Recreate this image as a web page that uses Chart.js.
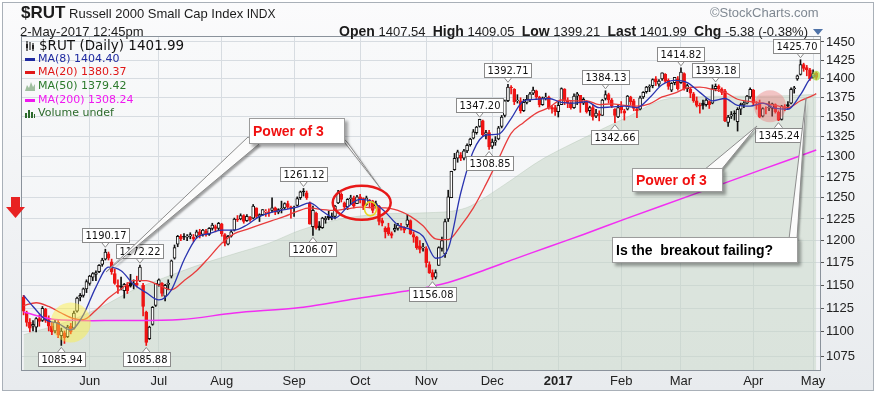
<!DOCTYPE html>
<html>
<head>
<meta charset="utf-8">
<title>$RUT Russell 2000 Small Cap Index</title>
<script src="https://cdn.jsdelivr.net/npm/chart.js@4/dist/chart.umd.min.js"></script>
<style>
  html, body { margin: 0; padding: 0; background: #ffffff; }
  #wrap { position: relative; width: 876px; height: 393px; overflow: hidden; font-family: "Liberation Sans", Arial, sans-serif; color: #1b1b1b; }
  #frame { position: absolute; left: 2px; top: 2px; width: 870px; height: 387px; border: 1px solid #a9b0b8; background: linear-gradient(#fbfbfc, #e8ebee); }
  #chart { position: absolute; left: 0; top: 0; }
  .t { position: absolute; white-space: pre; }
  #title { left: 21px; top: 3px; font-size: 13px; line-height: 20px; }
  #title b { font-size: 17px; }
  #title small { font-size: 12px; }
  #brand { left: 710px; top: 4px; font-size: 13px; line-height: 18px; color: #7f8892; }
  #stamp { left: 20px; top: 24px; font-size: 13px; line-height: 16px; }
  #quote { right: 68px; top: 22px; font-size: 13px; line-height: 18px; }
  #quote b { font-size: 14px; }
  #tri { position: absolute; left: 813px; top: 29px; width: 0; height: 0; border-left: 5px solid transparent; border-right: 5px solid transparent; border-top: 6px solid #4f73a8; }
  .lg { position: absolute; left: 25px; font-family: "DejaVu Sans", Verdana, sans-serif; font-size: 11px; line-height: 14px; white-space: pre; }
  .lg i { display: inline-block; width: 10px; height: 3px; vertical-align: middle; margin-right: 3px; }
  .lg svg { vertical-align: middle; margin-right: 3px; }
  .callout { position: absolute; background: #fff; border: 1px solid #9c9c9c; box-shadow: 3px 3px 3px rgba(0,0,0,0.35); font-weight: bold; font-size: 14px; white-space: pre; box-sizing: border-box; padding-left: 3px; }
</style>
</head>
<body>
<div id="wrap">
  <div id="frame"></div>
  <canvas id="chart" width="876" height="393"></canvas>

  <div class="t" id="title"><b>$RUT</b> Russell 2000 Small Cap Index <small>INDX</small></div>
  <div class="t" id="brand">©StockCharts.com</div>
  <div class="t" id="stamp">2-May-2017 12:45pm</div>
  <div class="t" id="quote"><b>Open</b> 1407.54  <b>High</b> 1409.05  <b>Low</b> 1399.21  <b>Last</b> 1401.99  <b>Chg</b> -5.38 (-0.38%)</div>
  <div id="tri"></div>

  <div class="lg" style="top:38px;font-size:13.5px;color:#111;"><svg width="11" height="10"><path d="M2 0V10M5 1V9M8 2V10" stroke="#222" stroke-width="1.2"/><rect x="1" y="3" width="2" height="4" fill="#222"/><rect x="7" y="4" width="2" height="4" fill="#222"/></svg>$RUT (Daily) 1401.99</div>
  <div class="lg" style="top:52px;color:#1f2aa0;"><i style="background:#1f2aa0"></i>MA(8) 1404.40</div>
  <div class="lg" style="top:65px;color:#e01818;"><i style="background:#e01818"></i>MA(20) 1380.37</div>
  <div class="lg" style="top:79px;color:#2c7a2c;"><svg width="10" height="10"><path d="M0 10L2 4L4 7L6 1L8 6L10 3V10Z" fill="#9fbf9f"/></svg>MA(50) 1379.42</div>
  <div class="lg" style="top:93px;color:#f018f0;"><i style="background:#f018f0"></i>MA(200) 1308.24</div>
  <div class="lg" style="top:106px;color:#2c6a2c;"><svg width="10" height="10"><path d="M0 10V5H2V10ZM3 10V2H5V10ZM6 10V4H8V10ZM9 10V6H10V10Z" fill="#2c6a2c"/></svg>Volume undef</div>

  <div class="callout" style="left:249px;top:118px;width:96px;height:26px;line-height:24px;color:#f01010;">Power of 3</div>
  <div class="callout" style="left:632px;top:168px;width:91px;height:24px;line-height:22px;color:#f01010;">Power of 3</div>
  <div class="callout" style="left:612px;top:237px;width:186px;height:26px;line-height:24px;color:#000;">Is the  breakout failing?</div>
</div>

<script>
"use strict";

// ---- 日足データ (2-May-2016 .. 2-May-2017, 253 trading days) ----
// 月ごとに1行: May, Jun, Jul, Aug, Sep, Oct, Nov, Dec, Jan, Feb, Mar, Apr+May
const openVals = [
  1137,1120,1110,1106,1105,1114,1112,1124,1113,1106,1101,1110,1096,1099,1095,1106,1104,1122,1137,1139,1146,
  1152,1159,1162,1165,1173,1179,1185,1176,1163,1150,1149,1144,1150,1152,1151,1152,1155,1150,1121,1093,1108,1128,
  1151,1152,1138,1151,1160,1180,1196,1205,1205,1204,1205,1204,1205,1210,1207,1211,1207,1214,1216,1214,
  1219,1207,1196,1205,1212,1225,1225,1229,1223,1227,1226,1238,1228,1230,1233,1233,1235,1238,1233,1237,1238,1243,1239,
  1238,1241,1250,1258,1256,1244,1216,1232,1217,1215,1224,1228,1228,1228,1244,1254,1244,1239,1249,1250,1243,
  1251,1249,1242,1247,1246,1240,1240,1223,1214,1215,1208,1212,1214,1216,1214,1218,1223,1207,1204,1194,1192,
  1191,1173,1164,1159,1172,1191,1185,1225,1250,1284,1298,1302,1298,1307,1315,1323,1330,1338,1345,1328,1330,
  1313,1318,1322,1338,1352,1371,1389,1386,1371,1371,1358,1369,1372,1381,1384,1376,1366,1375,1376,1362,1362,
  1357,1366,1386,1371,1368,1362,1377,1378,1368,1370,1358,1362,1351,1354,1352,1374,1379,1372,1360,1350,
  1364,1358,1360,1376,1371,1360,1360,1376,1383,1389,1391,1400,1393,1400,1406,1398,1385,1395,1400,
  1395,1407,1387,1386,1380,1371,1365,1368,1366,1370,1368,1387,1390,1386,1384,1343,1351,1355,1344,1360,1366,1368,1376,
  1385,1366,1368,1351,1360,1362,1361,1366,1356,1347,1361,1366,1368,1387,1400,1406,1419,1415,1412,1402,1407.54
];
const highVals = [
  1139,1122,1114,1112,1115,1118,1127,1125,1117,1110,1113,1113,1104,1101,1107,1109,1122,1137,1141,1147,1156,
  1161,1164,1166,1173,1180,1190.17,1187,1179,1168,1156,1159,1152,1153,1162,1156,1160,1172.22,1152,1122,1106,1127,1152,
  1157,1153,1151,1156,1178,1195,1206,1207,1208,1207,1209,1207,1212,1213,1213,1213,1215,1220,1218,1221,
  1220,1208,1206,1212,1226,1229,1231,1230,1230,1228,1242,1238,1231,1236,1236,1237,1250,1239,1237,1246,1244,1246,1240,
  1240,1251,1258,1261.12,1258,1245,1240,1233,1222,1227,1228,1234,1232,1241,1259,1256,1245,1249,1253,1252,1253,
  1254,1250,1252,1248,1247,1246,1241,1226,1216,1220,1210,1219,1220,1220,1216,1230,1224,1210,1205,1200,1197,
  1193,1176,1167,1167,1193,1204,1225,1259,1282,1304,1308,1305,1309,1316,1323,1334,1338,1347.20,1346,1333,1333,
  1322,1325,1338,1352,1372,1392.71,1391,1387,1379,1375,1373,1378,1382,1389,1385,1377,1376,1381,1377,1365,1365,
  1370,1388,1387,1375,1370,1380,1382,1378,1375,1371,1364,1365,1360,1358,1373,1384.13,1381,1374,1361,1365,
  1370,1360,1378,1377,1373,1362,1377,1383,1390,1392,1400,1403,1399,1408,1407,1400,1395,1402,1403,
  1414.82,1408,1393,1389,1382,1376,1368,1372,1374,1371,1392,1393.18,1392,1388,1386,1352,1357,1358,1362,1368,1370,1378,1388,
  1386,1370,1372,1362,1363,1370,1368,1367,1358,1365,1366,1370,1388,1390,1405,1425.70,1421,1418,1414,1412,1409.05
];
const lowVals = [
  1118,1106,1100,1101,1100,1106,1111,1110,1101,1097,1099,1094,1085.94,1088,1094,1098,1103,1121,1133,1137,1142,
  1150,1155,1155,1164,1171,1178,1178,1162,1151,1141,1145,1136,1141,1148,1146,1148,1154,1117,1085.88,1092,1107,1127,
  1149,1138,1133,1145,1158,1179,1193,1200,1201,1200,1202,1199,1203,1203,1205,1205,1206,1212,1210,1212,
  1205,1194,1195,1204,1211,1222,1224,1220,1222,1222,1225,1226,1222,1229,1228,1228,1233,1230,1231,1232,1236,1237,1226,
  1228,1240,1248,1252,1248,1219,1206.07,1213,1212,1214,1220,1224,1224,1225,1243,1245,1236,1236,1242,1238,1243,
  1244,1236,1241,1238,1232,1238,1218,1217,1203,1206,1203,1210,1212,1212,1209,1216,1207,1198,1190,1186,1188,
  1170,1163,1156.08,1157,1172,1188,1181,1222,1250,1283,1293,1295,1296,1305,1313,1322,1328,1337,1325,1322,1308.85,
  1310,1314,1321,1336,1350,1370,1380,1366,1368,1355,1357,1367,1370,1379,1374,1363,1365,1372,1360,1355,1352,
  1350,1366,1366,1362,1360,1361,1366,1356,1366,1355,1352,1346,1349,1345,1352,1372,1368,1362,1342.66,1349,
  1355,1346,1359,1366,1358,1349,1359,1374,1381,1383,1388,1391,1390,1398,1395,1386,1383,1392,1385,
  1394,1385,1383,1375,1369,1363,1355,1360,1364,1361,1367,1384,1383,1379,1344,1338,1348,1346,1332,1353,1362,1367,1374,
  1365,1360,1349,1350,1354,1358,1351,1355,1345.24,1346,1358,1361,1367,1381,1398,1405,1410,1404,1398,1401,1399.21
];
const closeVals = [
  1122,1110,1104,1108,1114,1111,1125,1112,1106,1100,1110,1097,1101,1094,1105,1100,1120,1136,1139,1146,1154,
  1160,1163,1164,1172,1178,1187,1180,1165,1152,1148,1148,1151,1144,1149,1152,1150,1170,1127,1089,1105,1126,1152,
  1156,1141,1150,1152,1177,1192,1205,1202,1204,1205,1207,1202,1210,1206,1212,1207,1214,1218,1214,1220,
  1208,1197,1205,1210,1225,1224,1229,1222,1228,1224,1240,1228,1230,1236,1234,1232,1238,1233,1236,1237,1243,1239,1238,
  1239,1249,1257,1257,1250,1219,1235,1215,1215,1226,1226,1226,1226,1240,1256,1248,1239,1248,1250,1240,1251,
  1248,1240,1250,1245,1235,1243,1222,1220,1210,1208,1206,1214,1218,1215,1212,1224,1208,1204,1192,1190,1192,
  1175,1164,1159,1164,1192,1200,1222,1251,1282,1298,1306,1298,1307,1314,1322,1331,1337,1347,1327,1330,1312,
  1318,1320,1336,1350,1371,1389,1388,1370,1372,1358,1369,1373,1380,1385,1376,1366,1375,1376,1362,1360,1357,
  1365,1387,1371,1368,1362,1377,1380,1368,1373,1357,1362,1350,1355,1352,1372,1379,1372,1364,1352,1362,
  1359,1355,1377,1370,1361,1358,1375,1382,1389,1390,1399,1396,1397,1408,1397,1390,1394,1402,1387,
  1409,1387,1391,1381,1371,1365,1364,1365,1372,1366,1387,1390,1387,1382,1345,1350,1353,1354,1360,1366,1368,1377,1386,
  1368,1365,1350,1361,1360,1362,1367,1357,1346,1364,1363,1364,1386,1388,1404,1419,1414,1412,1400,1407,1401.99
];

// 移動平均 (チャートから読み取り, 取引日インデックス: 値)
const ma8Idx = [0,3,7,11,15,19,23,27,31,35,39,43,47,51,55,59,63,67,71,75,79,83,87,91,95,99,103,107,111,115,119,123,127,131,135,139,143,147,151,155,159,163,167,171,175,179,183,187,191,195,199,203,207,211,215,219,223,227,231,235,239,243,247,251,252];
const ma8Vals = [1139,1127,1113,1109,1102,1118,1148,1170,1166,1151,1142,1134,1145,1178,1203,1208,1212,1212,1218,1228,1233,1236,1239,1244,1234,1226,1239,1248,1245,1233,1218,1213,1205,1180,1191,1256,1307,1327,1328,1348,1371,1373,1374,1369,1368,1370,1362,1363,1364,1362,1375,1392,1398,1395,1382,1371,1374,1365,1364,1368,1361,1360,1379,1404,1404.40];

const ma20Idx = [0,4,8,12,16,19,23,27,31,35,39,43,47,51,55,59,63,67,71,75,79,83,87,91,95,99,103,107,111,115,119,123,127,131,135,139,143,147,151,155,159,163,167,171,175,179,183,187,191,195,199,203,207,211,215,219,223,227,231,235,239,243,247,251,252];
const ma20Vals = [1128,1131,1127,1120,1114,1113,1123,1136,1146,1155,1155,1150,1145,1155,1166,1181,1197,1208,1213,1218,1223,1228,1234,1238,1236,1235,1237,1239,1238,1238,1235,1228,1217,1202,1201,1217,1238,1266,1297,1329,1343,1355,1362,1372,1371,1371,1366,1367,1365,1364,1367,1376,1381,1388,1389,1386,1382,1373,1370,1368,1365,1362,1371,1378,1380.37];

const ma50Idx = [0,14,25,35,46,57,67,78,88,101,114,126,136,142,153,165,180,192,203,213,224,234,245,252];
const ma50Vals = [1097,1111,1127,1145,1160,1174,1185,1197,1212,1225,1231,1232,1234,1240,1266,1297,1327,1350,1372,1376,1377,1377,1378,1379.42];

const ma200Idx = [0,10,30,50,67,88,105,124,135,146,156,167,178,192,213,234,252];
const ma200Vals = [1121,1113,1112,1113,1120,1126,1135,1145,1153,1166,1179,1193,1207,1226,1254,1283,1308.24];

// 軸
const yTickVals = [1075,1100,1125,1150,1175,1200,1225,1250,1275,1300,1325,1350,1375,1400,1425,1450];
const monthStartIdx = [21,43,63,86,107,128,149,170,190,209,232,251];
const monthLabels = ['Jun','Jul','Aug','Sep','Oct','Nov','Dec','2017','Feb','Mar','Apr','May'];

// 高値・安値の注記 (H = 高値の上, L = 安値の下)
const markIdx  = [12,26,37,39,89,92,130,145,148,154,185,188,209,220,240,247];
const markSide = ['L','H','H','L','H','L','L','H','L','H','H','L','H','H','L','H'];

// ---- 描画 ----
const RED = '#ee1414';
const BLK = '#111111';
const dayIdx = closeVals.map((c, i) => i);
const candleColor = dayIdx.map(i => {
    const ref = i === 0 ? openVals[0] : closeVals[i - 1];
    return closeVals[i] < ref ? RED : BLK;
});
const bodyFill = dayIdx.map(i => closeVals[i] < openVals[i] ? candleColor[i] : '#ffffff');

const pts = (ix, vals) => ix.map((x, k) => ({ x: x, y: vals[k] }));

const overlay = {
    id: 'overlay',
    beforeDraw(chart) {
        const { ctx, chartArea: a } = chart;
        ctx.save();
        const g = ctx.createLinearGradient(0, a.top, 0, a.bottom);
        g.addColorStop(0, '#f8f9fa');
        g.addColorStop(1, '#f1f3f5');
        ctx.fillStyle = g;
        ctx.fillRect(a.left, a.top, a.right - a.left, a.bottom - a.top);
        ctx.restore();
    },
    afterDatasetsDraw(chart) {
        const { ctx, scales: { x, y } } = chart;
        // 強調マーク (取引日, 価格 に固定)
        const spots = [
            { i: 15,    v: 1110, rx: 20, ry: 20, fill: 'rgba(255,240,60,0.45)' },
            { i: 107.5, v: 1244, rx: 29, ry: 17, stroke: '#e81818', lw: 2.5 },
            { i: 110.3, v: 1237, rx: 6,  ry: 7,  stroke: '#e8d820', lw: 1.5 },
            { i: 237.3, v: 1364, rx: 16, ry: 16, fill: 'rgba(235,110,110,0.38)' },
            { i: 252,   v: 1404, rx: 4,  ry: 5,  fill: 'rgba(170,225,60,0.7)' }
        ];
        ctx.save();
        spots.forEach(s => {
            ctx.beginPath();
            ctx.ellipse(x.getPixelForValue(s.i), y.getPixelForValue(s.v), s.rx, s.ry, 0, 0, Math.PI * 2);
            if (s.fill) { ctx.fillStyle = s.fill; ctx.fill(); }
            if (s.stroke) { ctx.strokeStyle = s.stroke; ctx.lineWidth = s.lw; ctx.stroke(); }
        });
        ctx.restore();
    },
    afterDraw(chart) {
        const { ctx, chartArea: a, scales: { x, y } } = chart;
        ctx.save();
        // 枠
        ctx.strokeStyle = '#8a929b';
        ctx.lineWidth = 1;
        ctx.strokeRect(a.left - 0.5, a.top - 0.5, a.right - a.left + 1, a.bottom - a.top + 1);

        // 値ラベル
        ctx.font = '11px "DejaVu Sans Condensed", "DejaVu Sans", sans-serif';
        ctx.textAlign = 'center';
        ctx.textBaseline = 'middle';
        markIdx.forEach((i, k) => {
            const hi = markSide[k] === 'H';
            const v = hi ? highVals[i] : lowVals[i];
            const px = x.getPixelForValue(i);
            const py = y.getPixelForValue(v);
            const txt = v.toFixed(2);
            const w = Math.round(ctx.measureText(txt).width) + 6;
            const h = 14;
            const cx = Math.min(px, a.right - w / 2);
            const cy = hi ? py - 14 : py + 14;
            const edge = hi ? cy + h / 2 : cy - h / 2;
            const tip = hi ? py - 2 : py + 2;
            ctx.beginPath();
            ctx.moveTo(px - 4, edge);
            ctx.lineTo(px, tip);
            ctx.lineTo(px + 4, edge);
            ctx.fillStyle = '#ffffff';
            ctx.fill();
            ctx.strokeStyle = '#8a8a8a';
            ctx.stroke();
            const bx = Math.round(cx - w / 2) + 0.5, by = Math.round(cy - h / 2) + 0.5;
            ctx.fillStyle = '#ffffff';
            ctx.fillRect(bx, by, w, h);
            ctx.strokeStyle = '#8a8a8a';
            ctx.strokeRect(bx, by, w, h);
            ctx.fillStyle = '#111';
            ctx.fillText(txt, bx + w / 2, by + h / 2 + 0.5);
        });

        // 吹き出しの引出線
        const wedges = [
            [[248, 137], [259, 144], [106, 272]],
            [[338, 134], [347, 142], [381, 189]],
            [[704, 170], [721, 170], [757, 126]],
            [[789, 239], [797, 239], [806, 98]]
        ];
        wedges.forEach(w => {
            ctx.save();
            ctx.beginPath();
            ctx.moveTo(w[0][0], w[0][1]);
            ctx.lineTo(w[2][0], w[2][1]);
            ctx.lineTo(w[1][0], w[1][1]);
            ctx.closePath();
            ctx.shadowColor = 'rgba(0,0,0,0.35)';
            ctx.shadowOffsetX = 2;
            ctx.shadowOffsetY = 2;
            ctx.shadowBlur = 2;
            ctx.fillStyle = '#fbfbfb';
            ctx.fill();
            ctx.shadowColor = 'transparent';
            ctx.strokeStyle = '#8d8d8d';
            ctx.lineWidth = 1;
            ctx.stroke();
            ctx.restore();
        });

        // 左余白の赤矢印
        ctx.fillStyle = '#e82222';
        ctx.fillRect(11, 197, 9, 10);
        ctx.beginPath();
        ctx.moveTo(6, 207);
        ctx.lineTo(25, 207);
        ctx.lineTo(15.5, 218);
        ctx.closePath();
        ctx.fill();
        ctx.restore();
    }
};

const ctx = document.getElementById('chart');
new Chart(ctx, {
    type: 'bar',
    data: {
        datasets: [
            {
                // MA(50) 面
                type: 'line',
                data: pts(ma50Idx, ma50Vals),
                borderColor: 'rgba(170,190,170,0.35)',
                borderWidth: 1,
                backgroundColor: 'rgba(196,212,196,0.5)',
                fill: 'start',
                pointRadius: 0,
                tension: 0.3,
                order: 10
            },
            {
                // ひげ
                data: dayIdx.map(i => ({ x: i, y: [lowVals[i], highVals[i]] })),
                backgroundColor: candleColor,
                borderWidth: 0,
                barThickness: 1,
                grouped: false,
                order: 6
            },
            {
                // 実体
                data: dayIdx.map(i => {
                    const lo = Math.min(openVals[i], closeVals[i]);
                    let hi = Math.max(openVals[i], closeVals[i]);
                    if (hi - lo < 0.5) hi = lo + 0.5;
                    return { x: i, y: [lo, hi] };
                }),
                backgroundColor: bodyFill,
                borderColor: candleColor,
                borderWidth: 1,
                borderSkipped: false,
                barThickness: 3,
                grouped: false,
                order: 5
            },
            {
                type: 'line',
                data: pts(ma200Idx, ma200Vals),
                borderColor: '#f22ef2',
                borderWidth: 1.5,
                pointRadius: 0,
                tension: 0.3,
                fill: false,
                order: 3
            },
            {
                type: 'line',
                data: pts(ma20Idx, ma20Vals),
                borderColor: '#e83c3c',
                borderWidth: 1.3,
                pointRadius: 0,
                cubicInterpolationMode: 'monotone',
                fill: false,
                order: 2
            },
            {
                type: 'line',
                data: pts(ma8Idx, ma8Vals),
                borderColor: '#2a34b0',
                borderWidth: 1.3,
                pointRadius: 0,
                cubicInterpolationMode: 'monotone',
                fill: false,
                order: 1
            }
        ]
    },
    options: {
        responsive: false,
        maintainAspectRatio: false,
        devicePixelRatio: 1,
        animation: false,
        events: [],
        layout: { padding: { left: 22, top: 37, right: 0, bottom: 0 } },
        plugins: { legend: { display: false }, tooltip: { enabled: false } },
        scales: {
            x: {
                type: 'linear',
                min: -0.5,
                max: 253.2,
                offset: false,
                afterBuildTicks: s => { s.ticks = monthStartIdx.map(v => ({ value: v })); },
                afterFit: s => { s.height = 23; },
                grid: { color: '#d7dce1', drawTicks: false, offset: false },
                border: { display: false },
                ticks: {
                    autoSkip: false,
                    maxRotation: 0,
                    padding: 4,
                    color: '#222',
                    font: c => ({ family: '"Liberation Sans", Arial', size: 13, weight: monthLabels[c.index] === '2017' ? 'bold' : 'normal' }),
                    callback: (v, i) => monthLabels[i]
                }
            },
            y: {
                type: 'logarithmic',
                position: 'right',
                min: 1060.8,
                max: 1456.9,
                afterBuildTicks: s => { s.ticks = yTickVals.map(v => ({ value: v })); },
                afterFit: s => { s.width = 56; },
                grid: { color: '#d7dce1', drawTicks: true, tickLength: 4, tickColor: '#555' },
                border: { display: false },
                ticks: {
                    autoSkip: false,
                    padding: 2,
                    color: '#222',
                    font: { family: '"Liberation Sans", Arial', size: 13 },
                    callback: v => String(v)
                }
            }
        }
    },
    plugins: [overlay]
});
</script>
</body>
</html>
